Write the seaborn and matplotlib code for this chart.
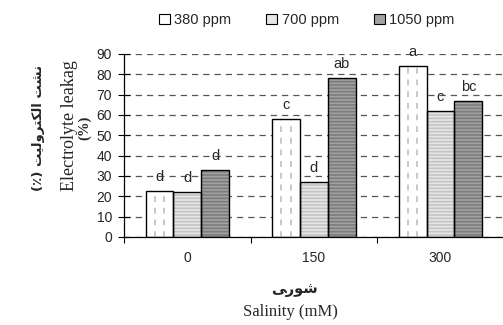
import numpy as np
import pandas as pd
import seaborn as sns
import matplotlib.pyplot as plt
from matplotlib.patches import Rectangle

# data
salinity = ['0', '150', '300']
co2_levels = ['380 ppm', '700 ppm', '1050 ppm']
leak_380 = [22.5, 58, 84]
leak_700 = [22, 27, 62]
leak_1050 = [33, 78, 67]
letters_380 = ['d', 'c', 'a']
letters_700 = ['d', 'd', 'c']
letters_1050 = ['d', 'ab', 'bc']

# persian labels written in visual order with presentation forms
fa_ylabel = '(\u066a) \ufe96\ufbff\ufedf\ufeed\ufeae\ufe98\ufb91\ufedf\ufe8d \ufe96\ufeb8\ufee7'
fa_xlabel = '\ufbfd\ufead\ufeee\ufeb7'

df = pd.DataFrame({
    'salinity': salinity * 3,
    'co2': np.repeat(co2_levels, 3),
    'leak': leak_380 + leak_700 + leak_1050,
    'letter': letters_380 + letters_700 + letters_1050,
})

sns.set_theme(style='white')
plt.rcParams['font.family'] = ['Liberation Sans', 'DejaVu Sans']
plt.rcParams['hatch.linewidth'] = 1.2

face = {'380 ppm': '#ffffff', '700 ppm': '#e6e6e6', '1050 ppm': '#a2a2a2'}
stripe = {'380 ppm': '#ffffff', '700 ppm': '#c4c4c4', '1050 ppm': '#7c7c7c'}

fig = plt.figure(figsize=(5.03, 3.25), dpi=100)
ax = fig.add_axes([0.2465, 0.271, 0.755, 0.563])

sns.barplot(data=df, x='salinity', y='leak', hue='co2', order=salinity,
            hue_order=co2_levels, palette=face, width=0.66, gap=0,
            saturation=1, linewidth=0, legend=False, ax=ax)

bars = ax.patches[:9]
for i, p in enumerate(bars):
    lvl = co2_levels[i // 3]
    x, w, h = p.get_x(), p.get_width(), p.get_height()
    if lvl == '380 ppm':
        ax.vlines([x + w / 3, x + 2 * w / 3], 0, h, colors='#c8c8c8',
                  linestyles=(0, (3, 3)), linewidth=1.4, zorder=3)
    else:
        p.set_hatch('-----')
        p.set_edgecolor(stripe[lvl])
    ax.add_patch(Rectangle((x, 0), w, h, fill=False, edgecolor='black',
                           linewidth=1.0, zorder=4))
    ax.text(x + w / 2, h + 3.5, df['letter'][i], ha='center', va='bottom',
            fontsize=10.5, zorder=5, clip_on=False)

ax.set_ylim(0, 90)
ax.set_xlim(-0.5, 2.5)
ax.set_yticks(range(0, 91, 10))
ax.yaxis.grid(True, color='#555555', linestyle=(0, (5, 4)), linewidth=0.9)
ax.set_axisbelow(True)
for s in ['top', 'right']:
    ax.spines[s].set_visible(False)
for s in ['left', 'bottom']:
    ax.spines[s].set_color('black')
    ax.spines[s].set_linewidth(0.9)
ax.tick_params(axis='y', left=True, length=9, width=0.8, color='black',
               labelsize=10, pad=4, direction='inout')
ax.set_xticks([0, 1, 2])
ax.set_xticks([-0.5, 0.5, 1.5], minor=True)
ax.tick_params(axis='x', which='major', bottom=False, labelsize=10, pad=4)
ax.tick_params(axis='x', which='minor', bottom=True, length=4, width=0.8,
               color='black', direction='out')
ax.set_xlabel('')
ax.set_ylabel('')

# axis titles
fig.text(0.077, 0.606, fa_ylabel, rotation=90, ha='center', va='center',
         fontsize=9.5, fontweight='bold', family=['DejaVu Sans'])
fig.text(0.139, 0.615, 'Electrolyte leakag', rotation=90, ha='center',
         va='center', fontsize=13, family=['Liberation Serif'])
fig.text(0.168, 0.606, '(%)', rotation=90, ha='center', va='center',
         fontsize=10.5, fontweight='bold', family=['Liberation Serif'])
fig.text(0.586, 0.108, fa_xlabel, ha='center', va='center', fontsize=10.5,
         fontweight='bold', family=['DejaVu Sans'])
fig.text(0.577, 0.040, 'Salinity (mM)', ha='center', va='center',
         fontsize=12, family=['Liberation Serif'])

handles = [Rectangle((0, 0), 1, 1, facecolor=face[l], edgecolor='black',
                     linewidth=0.8) for l in co2_levels]
fig.legend(handles, co2_levels, loc='center left', bbox_to_anchor=(0.316, 0.938),
           ncol=3, frameon=False, fontsize=10.5, handlelength=0.75,
           handleheight=0.75, handletextpad=0.3, columnspacing=2.4,
           borderpad=0, borderaxespad=0)

fig.savefig('out.png', dpi=100)
